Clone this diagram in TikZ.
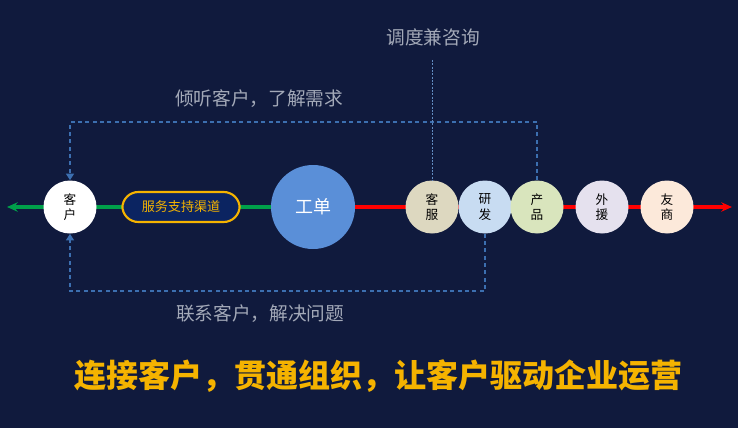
\documentclass[tikz,border=0pt]{standalone}
\usepackage{fontspec}
\setmainfont{Noto Sans CJK SC}
\usetikzlibrary{arrows.meta,backgrounds}
\definecolor{bg}{HTML}{101A3D}
\definecolor{gline}{HTML}{00A04A}
\definecolor{rline}{HTML}{FF0000}
\definecolor{dline}{HTML}{3C6FB0}
\definecolor{gold}{HTML}{F5B300}
\definecolor{greytxt}{HTML}{A3A9B8}
\definecolor{boxfill}{HTML}{0B2461}
\definecolor{gdfill}{HTML}{5A8FD8}
\definecolor{c1}{HTML}{DDD8C0}
\definecolor{c2}{HTML}{C8DCF2}
\definecolor{c3}{HTML}{D9E5BD}
\definecolor{c4}{HTML}{E5E1EE}
\definecolor{c5}{HTML}{FCE9DA}
\tikzset{
  sm/.style={circle,minimum size=39.75pt,inner sep=0pt,align=center,font=\fontsize{9.5}{11.5}\selectfont,text=black},
  dsh/.style={draw=dline,line width=1.1pt,dash pattern=on 3pt off 2.5pt},
  lbl/.style={text=greytxt,font=\fontsize{14}{16}\selectfont}
}
\begin{document}
\begin{tikzpicture}[x=0.75pt,y=-0.75pt]
\useasboundingbox (0,0) rectangle (738,428);
\node[sm,fill=white] (kh) at (70,207) {客\\户};
\node[draw=gold,line width=1.6pt,fill=boxfill,rounded corners=12pt,minimum width=88pt,minimum height=22.5pt,inner sep=0pt,text=gold,font=\fontsize{9.8}{11}\selectfont] (qd) at (181,207) {服务支持渠道};
\node[circle,fill=gdfill,minimum size=63pt,inner sep=0pt,text=white,font=\fontsize{13.5}{15}\selectfont] (gd) at (313,207) {工单};
\node[sm,fill=c1] (kf) at (432,207) {客\\服};
\node[sm,fill=c2] (yf) at (485,207) {研\\发};
\node[sm,fill=c3] (cp) at (537,207) {产\\品};
\node[sm,fill=c4] (wy) at (602,207) {外\\援};
\node[sm,fill=c5] (ys) at (667,207) {友\\商};
\coordinate (lend) at (7,207);
\coordinate (rend) at (732,207);
\coordinate (dtop) at (432,60);
\begin{pgfonlayer}{background}
\fill[bg] (0,0) rectangle (738,428);
\draw[gline,line width=2.4pt,-{Stealth[length=8pt,width=7pt]}] (gd.center) -- (lend);
\draw[rline,line width=2.4pt,-{Stealth[length=8pt,width=7pt]}] (gd.center) -- (rend);
\end{pgfonlayer}
\draw[dsh,-{Triangle[length=5pt,width=6pt]}] (cp.north) -- (cp.north |- 0,122) -- (kh.north |- 0,122) -- (kh.north);
\draw[dsh,-{Triangle[length=5pt,width=6pt]}] (yf.south) -- (yf.south |- 0,291) -- (kh.south |- 0,291) -- (kh.south);
\draw[draw=dline!80!white,line width=0.7pt,dash pattern=on 1.5pt off 1pt] (dtop) -- (kf.north);
\node[lbl] (t1) at (433,37) {调度兼咨询};
\node[lbl] (t2) at (259,99) {倾听客户，了解需求};
\node[lbl] (t3) at (260,314) {联系客户，解决问题};
\node[text=gold,font=\fontsize{24}{28}\selectfont\bfseries] (tt) at (378,376) {连接客户，贯通组织，让客户驱动企业运营};
\end{tikzpicture}
\end{document}
